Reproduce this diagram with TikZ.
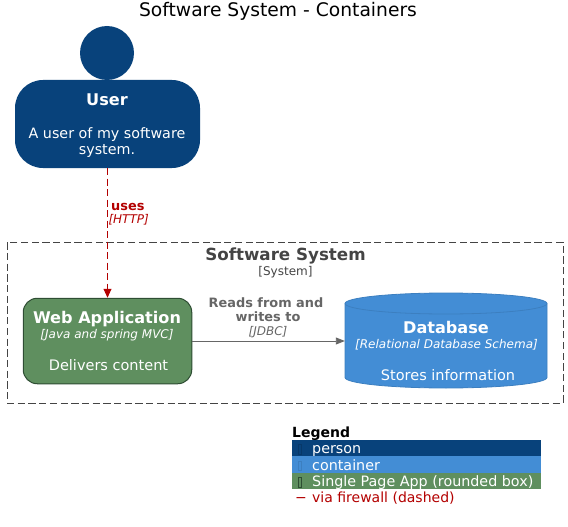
\documentclass[tikz,border=0pt]{standalone}
\usepackage{fontspec}
\setmainfont{DejaVu Sans}
\usetikzlibrary{arrows.meta}
\definecolor{personc}{HTML}{08427B}
\definecolor{contc}{HTML}{438DD5}
\definecolor{contd}{HTML}{3C7FC0}
\definecolor{spac}{HTML}{5F8F5F}
\definecolor{spad}{HTML}{2E4D33}
\definecolor{relred}{HTML}{B30000}
\definecolor{relgray}{HTML}{666666}
\definecolor{bndc}{HTML}{444444}
\newcommand{\fs}[1]{\fontsize{#1}{#1}\selectfont}
\tikzset{
  x=1pt,y=-1pt,
  txt/.style={inner sep=0pt,anchor=base},
  white14/.style={txt,text=white,font=\fs{14.5}},
  whitename/.style={txt,text=white,font=\fs{16.1}\bfseries},
  whitetech/.style={txt,text=white,font=\fs{12}\itshape},
  rellabel/.style={txt,font=\fs{12.9}\bfseries},
  reltech/.style={txt,font=\fs{12}\itshape},
  legendrow/.style={fill=#1,draw=none,minimum width=249pt,minimum height=16.5pt,inner sep=0pt,anchor=west},
  legendtxt/.style={txt,anchor=base west,text=white,font=\fs{14.3}},
  tofu/.style={draw=#1,line width=.5pt,fill=none,minimum width=3.2pt,minimum height=9.5pt,inner sep=0pt},
}
\begin{document}
\begin{tikzpicture}
\useasboundingbox (0,0) rectangle (568,527);
\node[txt,text=black,font=\fs{18.7}] (title) at (278,17) {Software System - Containers};
% boundary
\node[draw=bndc,dash pattern=on 7.3pt off 3.4pt,line width=.9pt,minimum width=556pt,minimum height=161pt,inner sep=0pt] (bnd) at (285,322.5) {};
\node[txt,text=bndc,font=\fs{16.7}\bfseries] (bndname) at (285.5,260) {Software System};
\node[txt,text=bndc,font=\fs{12}] (bndtype) at (285.5,275) {[System]};
% user
\node[circle,fill=personc,minimum size=54pt,inner sep=0pt] (head) at (107,53) {};
\node[fill=personc,rounded corners=28pt,minimum width=185pt,minimum height=88pt,inner sep=0pt] (user) at (107.5,124) {};
\node[whitename] (username) at (107,105.6) {User};
\node[txt,text=white,font=\fs{14.3}] (userdesc) at (107,138) {A user of my software};
\node[txt,text=white,font=\fs{14.3}] (userdesc2) at (107,154.3) {system.};
% web app
\node[fill=spac,draw=spad,line width=1pt,rounded corners=14pt,minimum width=168.5pt,minimum height=85.5pt,inner sep=0pt] (web) at (107.5,341) {};
\node[whitename] (webname) at (107,323) {Web Application};
\node[whitetech] (webtech) at (107,338) {[Java and spring MVC]};
\node[white14] (webdesc) at (108.5,370) {Delivers content};
% database
\node[minimum width=202pt,minimum height=95pt,inner sep=0pt] (db) at (446,341) {};
\fill[contc] (345,303.5) arc[x radius=101,y radius=10.5,start angle=180,end angle=360]
  -- (547,377.5) arc[x radius=101,y radius=10.5,start angle=0,end angle=180] -- cycle;
\draw[contd,line width=.8pt] (345,303.5) arc[x radius=101,y radius=10.5,start angle=180,end angle=0];
\draw[contd,line width=.8pt] (345,303.5) arc[x radius=101,y radius=10.5,start angle=180,end angle=360]
  -- (547,377.5) arc[x radius=101,y radius=10.5,start angle=0,end angle=180] -- cycle;
\node[whitename] (dbname) at (446,333) {Database};
\node[whitetech] (dbtech) at (446.5,348) {[Relational Database Schema]};
\node[white14] (dbdesc) at (448,380) {Stores information};
% connectors
\draw[relred,line width=.9pt,dash pattern=on 7pt off 3.5pt,-{Triangle[length=9pt,width=8pt]}] (user.south) -- (web.north);
\draw[relgray,line width=.9pt,-{Triangle[length=9pt,width=7pt]}] (web.east) -- (db.west);
\node[rellabel,text=relred,anchor=base west] (uses) at (111,210) {uses};
\node[reltech,text=relred,anchor=base west] (http) at (108.3,223) {[HTTP]};
\node[rellabel,text=relgray] (r1) at (266,307) {Reads from and};
\node[rellabel,text=relgray] (r2) at (268,321.5) {writes to};
\node[reltech,text=relgray] (r3) at (268,335) {[JDBC]};
% legend
\node[txt,anchor=base west,text=black,font=\fs{14}\bfseries] (lg) at (292,437) {Legend};
\node[legendrow=personc] (l1) at (292,448.3) {};
\node[legendrow=contc] (l2) at (292,464.6) {};
\node[legendrow=spac] (l3) at (292,480.9) {};
\node[tofu=personc!85!black] (t1) at (299.5,449) {};
\node[tofu=contd] (t2) at (299.5,465.5) {};
\node[tofu=spad] (t3) at (299.5,482) {};
\node[legendtxt] (lt1) at (312,453.5) {person};
\node[legendtxt] (lt2) at (312,470) {container};
\node[legendtxt] (lt3) at (312,486) {Single Page App (rounded box)};
\node[txt,anchor=base west,text=relred,font=\fs{14}] (lt4) at (295,502) {−};
\node[txt,anchor=base west,text=relred,font=\fs{14}] (lt5) at (312,502) {via firewall (dashed)};
\end{tikzpicture}
\end{document}
